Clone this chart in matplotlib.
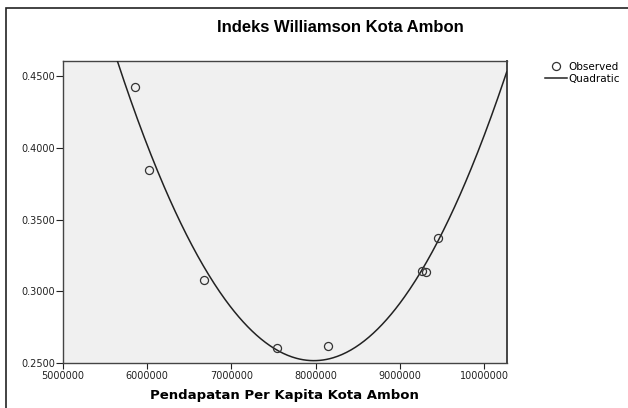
import matplotlib
matplotlib.use("Agg")
import matplotlib.pyplot as plt
import numpy as np
from matplotlib.patches import Rectangle
from matplotlib.ticker import FormatStrFormatter

income = [5855000, 6018000, 6671000, 7541000, 8151000, 9260000, 9315000, 9450000]
williamson = [0.4422, 0.3846, 0.3078, 0.2609, 0.2623, 0.3145, 0.3136, 0.3373]

x_ticks = [5000000, 6000000, 7000000, 8000000, 9000000, 10000000]
y_ticks = [0.25, 0.30, 0.35, 0.40, 0.45]

title = "Indeks Williamson Kota Ambon"
x_label = "Pendapatan Per Kapita Kota Ambon"

# quadratic fit, as in the SPSS curve estimation
coef = np.polyfit(income, williamson, 2)
xs = np.linspace(5000000, 10270000, 400)
ys = np.polyval(coef, xs)

fig = plt.figure(figsize=(6.28, 4.08), dpi=100)
fig.patch.set_facecolor("white")
ax = fig.add_axes([63 / 628, 1 - 363.3 / 408, (506.7 - 63) / 628, (363.3 - 60.7) / 408])
ax.set_facecolor("#f0f0f0")

ax.plot(xs, ys, color="#222222", lw=1.1, label="Quadratic", zorder=3)
ax.plot(income, williamson, ls="none", marker="o", ms=5.8, mfc="none",
        mec="#333333", mew=0.9, label="Observed", zorder=4)

ax.set_xlim(5000000, 10270000)
ax.set_ylim(0.25, 0.4607)
ax.set_xticks(x_ticks)
ax.set_yticks(y_ticks)
ax.xaxis.set_major_formatter(FormatStrFormatter("%d"))
ax.yaxis.set_major_formatter(FormatStrFormatter("%.4f"))
ax.tick_params(labelsize=7, width=0.8, colors="#222222")
ax.tick_params(axis="x", length=4, pad=1.5)
ax.tick_params(axis="y", length=5, pad=0.5)
for s in ax.spines.values():
    s.set_color("#444444")
    s.set_linewidth(1.0)
ax.spines["right"].set_linewidth(1.4)

ax.set_xlabel(x_label, fontsize=9.5, fontweight="bold", family="DejaVu Sans", labelpad=6)
fig.text(340 / 628, 1 - 27 / 408, title, ha="center", va="center",
         fontsize=12, fontweight="bold", family="Liberation Sans")

h, l = ax.get_legend_handles_labels()
fig.legend([h[1], h[0]], [l[1], l[0]], loc="upper left",
           bbox_to_anchor=(545 / 628, 1 - 62 / 408), frameon=False,
           prop={"family": "DejaVu Sans", "size": 7.5},
           handlelength=2.1, handletextpad=0.15,
           labelspacing=0.15, borderpad=0, borderaxespad=0)

# outer frame of the original chart (cropped on right and bottom)
fig.add_artist(Rectangle((5.5 / 628, -0.1), 1.2, 1 - 7.5 / 408 + 0.1,
                         transform=fig.transFigure, fill=False,
                         edgecolor="#222222", lw=1.2))

fig.savefig("out.png", dpi=100)
